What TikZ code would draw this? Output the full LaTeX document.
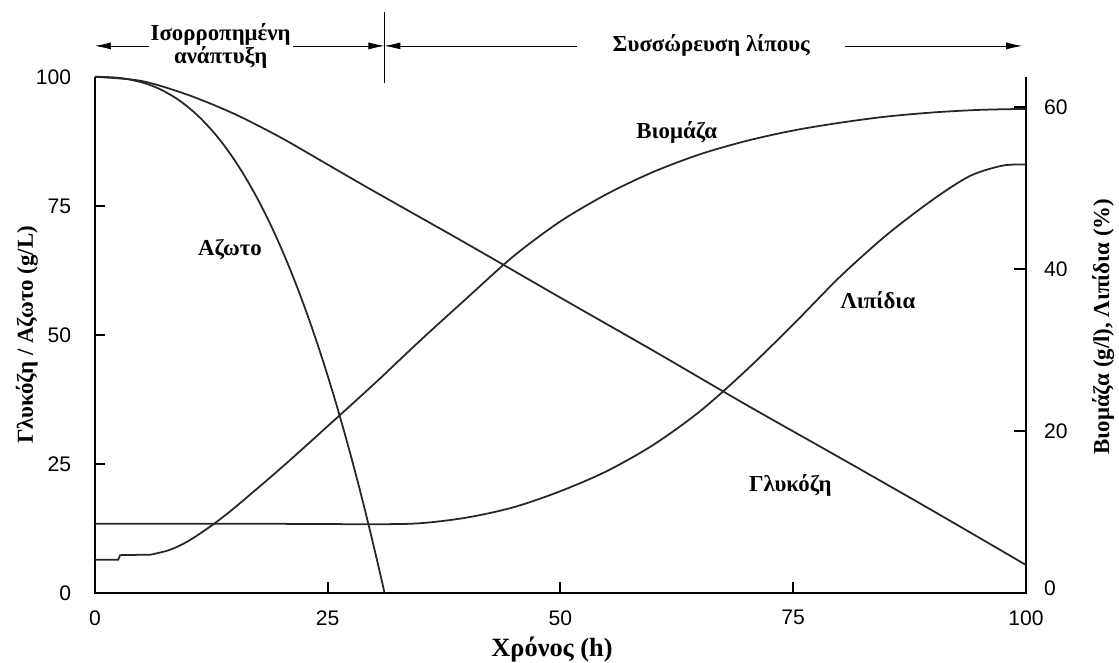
\documentclass[tikz,border=0pt]{standalone}
\usepackage{fontspec}
\setmainfont{Liberation Serif}
\setsansfont{Liberation Sans}
\usetikzlibrary{arrows.meta}
\tikzset{
  lbl/.style={font=\bfseries\fontsize{13}{13.5}\selectfont},
  num/.style={font=\sffamily\fontsize{12}{13}\selectfont},
  curve/.style={line width=1pt, black!85},
  axis/.style={line width=1.1pt},
}

\begin{document}
\begin{tikzpicture}[x=0.1862cm, y=0.1032cm, >={Latex[length=3.2mm,width=1.4mm]}]
      \useasboundingbox (-10.2,-13.57) rectangle (110,114.9);

      \draw[axis] (0,100) -- (0,0) -- (100,0) -- (100,100);
      \foreach \v in {25,50,75} \draw[axis] (0,\v) -- (1.1,\v);
      \foreach \h in {25,50,75} \draw[axis] (\h,0) -- (\h,2);
      \foreach \r in {20,40,60} \draw[axis] (100,{\r*1.57}) -- (98.7,{\r*1.57});

      \foreach \v in {0,25,50,75,100} \node[num, anchor=east] (left\v) at (-1.9,\v) {\v};
      \foreach \h in {0,25,50,75,100} \node[num, anchor=north] (bottom\h) at (\h,-2.2) {\h};
      \foreach \r in {20,40,60} \node[num, anchor=west] (right\r) at (101.3,{\r*1.57}) {\r};
      \node[num, anchor=west] (right0) at (101.3,0.8) {0};

      \node at (-7.3,50)    [lbl, rotate=90] (ytitle)  {Γλυκόζη / Αζωτο (g/L)};
      \node at (108.3,51.6) [lbl, rotate=90] (y2title) {Βιομάζα (g/l), Λιπίδια (\%)};
      \node at (49.1,-11)   [lbl, font=\bfseries\fontsize{15}{16}\selectfont] (xtitle) {Χρόνος (h)};

      \draw[curve] plot[smooth] coordinates {(0,100) (5,99.2) (10,96.5) (15,92.8) (20,88.2)
        (25,83) (30,77.8) (40,67.6) (50,57.2) (60,46.9) (70,36.4) (80,26.2) (90,15.9) (100,5.4)};
      \draw[curve] (0,100) -- plot[domain=0.2:31.1, samples=80, smooth] (\x,{100*(1-(\x/31.1)^2.5)});
      \draw[curve] (0,6.4) -- (2.5,6.4) -- (2.7,7.3) -- (6,7.4) -- plot[smooth] coordinates {(6,7.4)
        (8,8.3) (10,10) (12.5,13) (15,16.5) (20,24.2) (25,32.3) (30,40.5) (35,49) (40,57.2)
        (45,65.3) (50,72) (55,77.3) (60,81.6) (65,85) (70,87.6) (75,89.6) (80,91.1)
        (85,92.3) (90,93.1) (95,93.6) (100,93.8)};
      \draw[curve] plot[smooth] coordinates {(0,13.4) (15,13.4) (30,13.3) (35,13.5) (40,14.6)
        (45,16.6) (50,19.7) (55,23.6) (60,28.7) (65,35.2) (70,43.2) (75,52) (80,61.2)
        (85,69.3) (90,76.2) (94,80.8) (97.5,82.8) (100,83)};

      \node at (14.5,66.5) [lbl] (nitrogen) {Αζωτο};
      \node at (62.5,89.3) [lbl] (biomass)  {Βιομάζα};
      \node at (84.1,56.8) [lbl] (lipids)   {Λιπίδια};
      \node at (74.7,20.9) [lbl] (glucose)  {Γλυκόζη};

      \node at (13.5,106) [lbl, align=center, inner xsep=1pt] (balanced) {Ισορροπημένη\\ανάπτυξη};
      \node at (66.2,106) [lbl, inner xsep=0.7cm] (accum) {Συσσώρευση λίπους};
      \coordinate (divtop) at (31.1,112.6);
      \coordinate (divbot) at (31.1,98.8);
      \coordinate (start)  at (0,106);
      \coordinate (split)  at (31.1,106);
      \coordinate (finish) at (99.6,106);
      \draw[axis] (divtop) -- (divbot);
      \draw[->] (balanced.west) -- (start);
      \draw[->] (balanced.east) -- (split);
      \draw[->] (accum.west)    -- (split);
      \draw[->] (accum.east)    -- (finish);
\end{tikzpicture}
\end{document}
